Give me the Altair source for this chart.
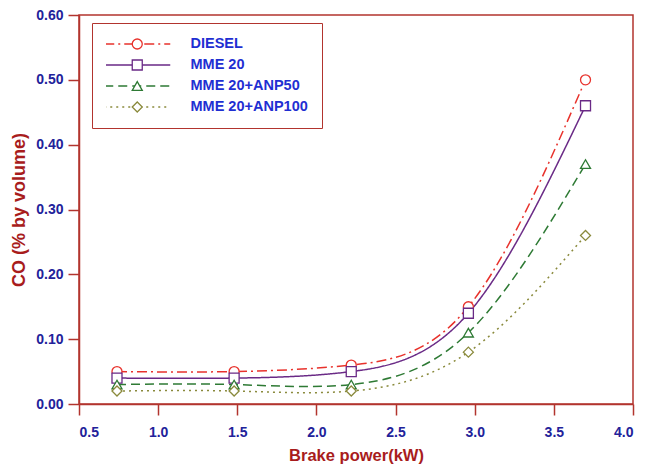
import altair as alt
import pandas as pd

# ---- data ----
series = ["DIESEL", "MME 20", "MME 20+ANP50", "MME 20+ANP100"]
power_kw = [0.74, 1.48, 2.22, 2.96, 3.70]
co_diesel = [0.05, 0.05, 0.06, 0.15, 0.50]
co_mme20 = [0.04, 0.04, 0.05, 0.14, 0.46]
co_anp50 = [0.03, 0.03, 0.03, 0.11, 0.37]
co_anp100 = [0.02, 0.02, 0.02, 0.08, 0.26]
x_ticks = [0.5, 1.0, 1.5, 2.0, 2.5, 3.0, 3.5, 4.0]
y_ticks = [0.0, 0.1, 0.2, 0.3, 0.4, 0.5, 0.6]

# ---- styles ----
colors = ["#e8322c", "#6a2a86", "#2e7a34", "#8a8a3c"]
dashes = [[10, 4, 2, 4], [1, 0], [9, 5], [2, 4]]
shapes = ["circle", "square", "triangle-up", "diamond"]
FONT = "Liberation Sans"
FRAME = "#b2342e"
LABEL_BLUE = "#22229a"
LEGEND_BLUE = "#1f2fd2"
TITLE_RED = "#a81c1c"

rows = []
for s, vals in zip(series, [co_diesel, co_mme20, co_anp50, co_anp100]):
    for p, v in zip(power_kw, vals):
        rows.append({"series": s, "power": p, "co": v})
df = pd.DataFrame(rows)

x_enc = alt.X(
    "power:Q",
    scale=alt.Scale(domain=[0.5, 4.0], nice=False, zero=False),
    axis=alt.Axis(values=x_ticks, format=".1f", title="Brake power(kW)",
                  tickSize=11, labelPadding=10, titlePadding=8,
                  titleFontSize=16.5),
)
y_enc = alt.Y(
    "co:Q",
    scale=alt.Scale(domain=[0, 0.6], nice=False),
    axis=alt.Axis(values=y_ticks, format=".2f", title="CO (% by volume)",
                  tickSize=11, labelPadding=5, titlePadding=7,
                  titleFontSize=18),
)

common_leg = dict(
    title=None, orient="none", legendX=13, legendY=8, padding=14,
    rowPadding=6, clipHeight=14, symbolSize=100, symbolOffset=24,
    labelOffset=46, labelFont=FONT, labelFontSize=14.5, labelFontWeight="bold",
)

line_legend = alt.Legend(
    symbolType="M-6.6,0H6.6", symbolStrokeWidth=1.5,
    labelColor=LEGEND_BLUE, strokeColor=FRAME, fillColor="white",
    **common_leg,
)
marker_legend = alt.Legend(
    symbolStrokeWidth=1.3, symbolFillColor="white", labelExpr="''",
    **common_leg,
)

lines = alt.Chart(df).mark_line(interpolate="natural", strokeWidth=1.5).encode(
    x=x_enc,
    y=y_enc,
    color=alt.Color("series:N", scale=alt.Scale(domain=series, range=colors),
                    legend=line_legend),
    strokeDash=alt.StrokeDash("series:N", scale=alt.Scale(domain=series, range=dashes),
                              legend=line_legend),
)

points = alt.Chart(df).mark_point(
    filled=False, fill="white", fillOpacity=1, size=100, strokeWidth=1.3, opacity=1
).encode(
    x=x_enc,
    y=y_enc,
    color=alt.Color("series:N", scale=alt.Scale(domain=series, range=colors),
                    legend=marker_legend),
    shape=alt.Shape("series:N", scale=alt.Scale(domain=series, range=shapes),
                    legend=marker_legend),
)

chart = alt.layer(lines, points).resolve_scale(
    color="independent", strokeDash="independent", shape="independent"
).properties(
    width=554, height=389,
    autosize=alt.AutoSizeParams(type="none"),
    padding={"left": 79, "top": 15, "right": 13, "bottom": 65},
).configure_view(
    stroke=FRAME, strokeWidth=1.5
).configure_axis(
    grid=False,
    domainColor=FRAME, domainWidth=1.5,
    tickColor=FRAME, tickWidth=1.5,
    labelFont=FONT, labelFontSize=14, labelFontWeight="bold", labelColor=LABEL_BLUE,
    titleFont=FONT, titleFontWeight="bold", titleColor=TITLE_RED,
)

chart.save("out.html", embed_options={"renderer": "svg", "actions": False})
